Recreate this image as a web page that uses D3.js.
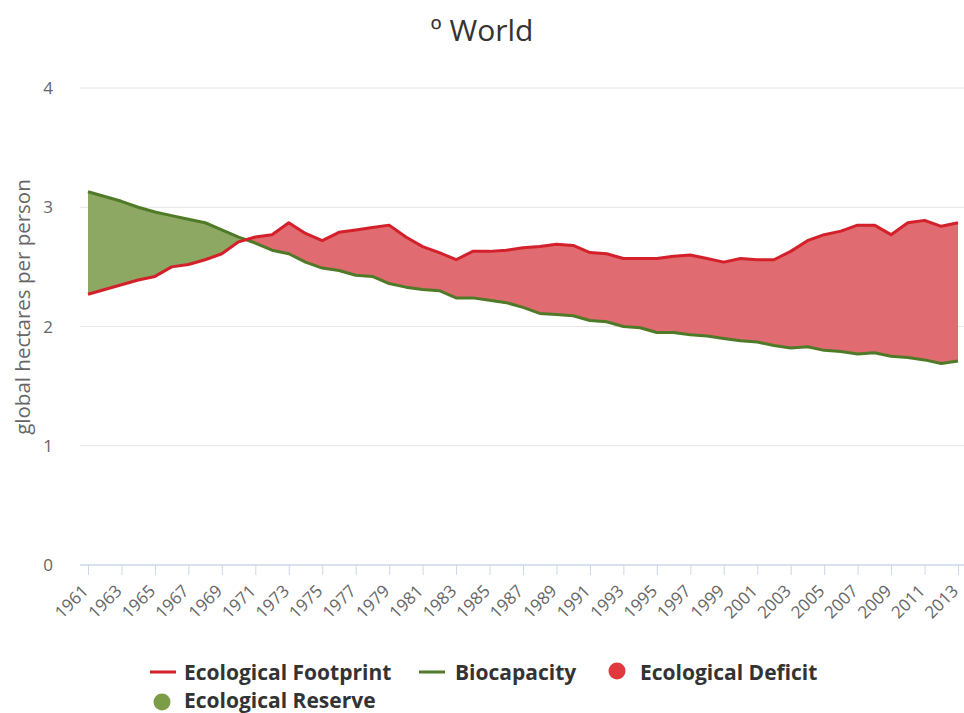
<!DOCTYPE html>
<html>
<head>
<meta charset="utf-8">
<script src="https://cdn.jsdelivr.net/npm/d3@7"></script>
<style>
  body { margin: 0; background: #fff; }
  text { font-family: "Open Sans", sans-serif; }
</style>
</head>
<body>
<div id="chart"></div>
<script>
// years 1961..2013
const years = d3.range(1961, 2014);

// global hectares per person
const footprint = [
  2.27, 2.31, 2.35, 2.39, 2.42, 2.50, 2.52, 2.56, 2.61, 2.71,
  2.75, 2.77, 2.87, 2.78, 2.72, 2.79, 2.81, 2.83, 2.85, 2.75,
  2.67, 2.62, 2.56, 2.63, 2.63, 2.64, 2.66, 2.67, 2.69, 2.68,
  2.62, 2.61, 2.57, 2.57, 2.57, 2.59, 2.60, 2.57, 2.54, 2.57,
  2.56, 2.56, 2.63, 2.72, 2.77, 2.80, 2.85, 2.85, 2.77, 2.87,
  2.89, 2.84, 2.87
];
const biocapacity = [
  3.13, 3.09, 3.05, 3.00, 2.96, 2.93, 2.90, 2.87, 2.81, 2.75,
  2.70, 2.64, 2.61, 2.54, 2.49, 2.47, 2.43, 2.42, 2.36, 2.33,
  2.31, 2.30, 2.24, 2.24, 2.22, 2.20, 2.16, 2.11, 2.10, 2.09,
  2.05, 2.04, 2.00, 1.99, 1.95, 1.95, 1.93, 1.92, 1.90, 1.88,
  1.87, 1.84, 1.82, 1.83, 1.80, 1.79, 1.77, 1.78, 1.75, 1.74,
  1.72, 1.69, 1.71
];
const yTicks = [0, 1, 2, 3, 4];
const xTicks = years.filter((d, i) => i % 2 === 0);

const titleText = "\u00BA World";
const yTitle = "global hectares per person";
const legendItems = ["Ecological Footprint", "Biocapacity", "Ecological Deficit", "Ecological Reserve"];

const width = 964, height = 713;
const plot = { left: 80, right: 964, top: 88, bottom: 565 };

const data = years.map((y, i) => ({ year: y, fp: footprint[i], bio: biocapacity[i] }));

const svg = d3.select("#chart").append("svg")
    .attr("width", width)
    .attr("height", height);

const x = d3.scaleLinear().domain([1961, 2013]).range([88, 958]);
const y = d3.scaleLinear().domain([0, 4]).range([plot.bottom, plot.top]);

// gridlines
svg.append("g")
    .selectAll("line")
    .data(yTicks.filter(d => d > 0))
    .join("line")
    .attr("x1", plot.left).attr("x2", plot.right)
    .attr("y1", d => y(d)).attr("y2", d => y(d))
    .attr("stroke", "#e6e6e6");

// y labels
svg.append("g")
    .selectAll("text")
    .data(yTicks)
    .join("text")
    .attr("x", 53)
    .attr("y", d => y(d) + 6)
    .attr("text-anchor", "end")
    .style("font-size", "17px")
    .style("fill", "#666")
    .text(d => d);

svg.append("text")
    .attr("transform", "translate(30,307) rotate(-90)")
    .attr("text-anchor", "middle")
    .style("font-size", "20.5px")
    .style("fill", "#666")
    .text(yTitle);

// clip paths for difference areas
const defs = svg.append("defs");
defs.append("clipPath").attr("id", "clip-above")
    .append("path")
    .attr("d", d3.area().x(d => x(d.year)).y0(0).y1(d => y(d.fp))(data));
defs.append("clipPath").attr("id", "clip-below")
    .append("path")
    .attr("d", d3.area().x(d => x(d.year)).y0(height).y1(d => y(d.fp))(data));

const between = d3.area()
    .x(d => x(d.year))
    .y0(d => y(d.fp))
    .y1(d => y(d.bio));

svg.append("path")
    .datum(data)
    .attr("clip-path", "url(#clip-above)")
    .attr("fill", "#8da862")
    .attr("d", between);

svg.append("path")
    .datum(data)
    .attr("clip-path", "url(#clip-below)")
    .attr("fill", "#e06b70")
    .attr("d", between);

// lines
svg.append("path")
    .datum(data)
    .attr("fill", "none")
    .attr("stroke", "#4f7a27")
    .attr("stroke-width", 3)
    .attr("stroke-linejoin", "round")
    .attr("d", d3.line().x(d => x(d.year)).y(d => y(d.bio)));

svg.append("path")
    .datum(data)
    .attr("fill", "none")
    .attr("stroke", "#d3202a")
    .attr("stroke-width", 3)
    .attr("stroke-linejoin", "round")
    .attr("d", d3.line().x(d => x(d.year)).y(d => y(d.fp)));

// x axis
const xAxis = d3.axisBottom(x)
    .tickValues(xTicks)
    .tickFormat(d3.format("d"))
    .tickSize(10)
    .tickSizeOuter(0);

const gx = svg.append("g")
    .attr("transform", "translate(0," + plot.bottom + ")")
    .call(xAxis);

gx.select(".domain").remove();
gx.append("line")
    .attr("x1", plot.left).attr("x2", plot.right)
    .attr("stroke", "#ccd6eb").attr("stroke-width", 1.5);
gx.selectAll(".tick line").attr("stroke", "#ccd6eb");
gx.selectAll(".tick text")
    .style("font-size", "17px")
    .style("fill", "#666")
    .attr("text-anchor", "end")
    .attr("x", 0).attr("y", 0)
    .attr("dx", 0).attr("dy", 0)
    .attr("transform", "translate(1,27) rotate(-45)");

// title
svg.append("text")
    .attr("x", 482)
    .attr("y", 41)
    .attr("text-anchor", "middle")
    .style("font-size", "30px")
    .style("fill", "#333")
    .text(titleText);

// legend
const legend = svg.append("g").style("font-weight", "bold").style("font-size", "21px").style("fill", "#333");

legend.append("line").attr("x1", 150).attr("x2", 176).attr("y1", 672).attr("y2", 672)
    .attr("stroke", "#d3202a").attr("stroke-width", 3);
legend.append("text").attr("x", 184).attr("y", 679.5).text(legendItems[0]);

legend.append("line").attr("x1", 419).attr("x2", 445).attr("y1", 672).attr("y2", 672)
    .attr("stroke", "#4f7a27").attr("stroke-width", 3);
legend.append("text").attr("x", 455).attr("y", 679.5).text(legendItems[1]);

legend.append("circle").attr("cx", 617).attr("cy", 671).attr("r", 8.5).attr("fill", "#e0393e");
legend.append("text").attr("x", 640).attr("y", 679.5).text(legendItems[2]);

legend.append("circle").attr("cx", 162).attr("cy", 702).attr("r", 8.5).attr("fill", "#7d9c48");
legend.append("text").attr("x", 184).attr("y", 707.5).text(legendItems[3]);
</script>
</body>
</html>
